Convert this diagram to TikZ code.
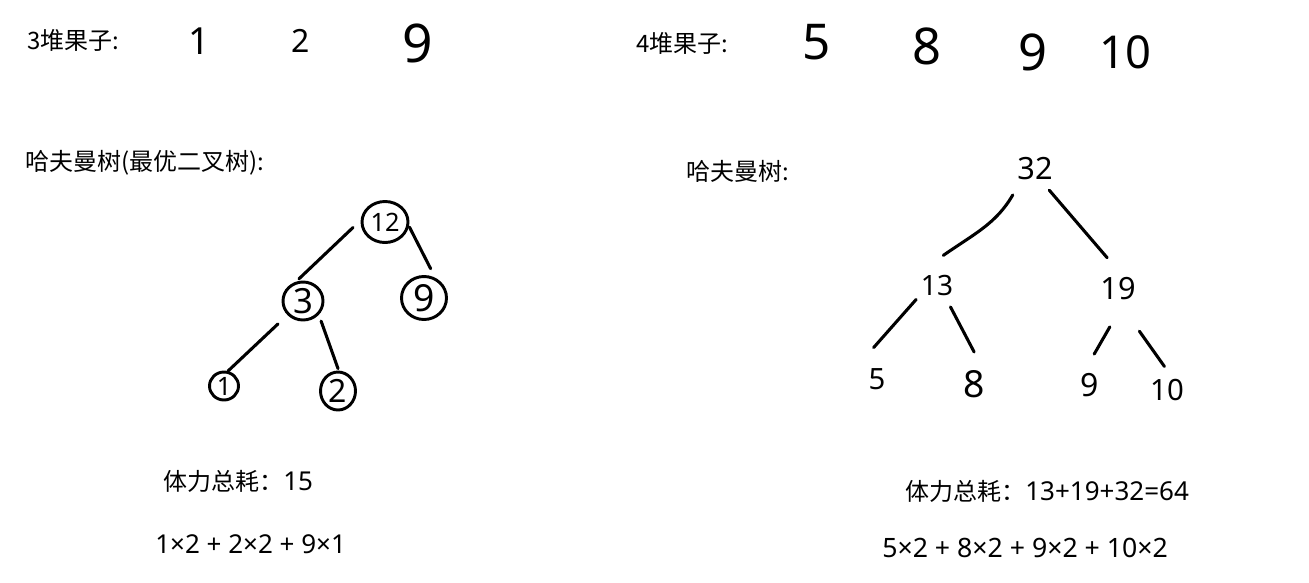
\documentclass[tikz,border=0pt]{standalone}
\usepackage{fontspec}
\setmainfont{Noto Sans CJK SC}
\newfontfamily\lat{Noto Sans}
\usetikzlibrary{shapes.geometric}
\begin{document}
\begin{tikzpicture}[x=0.75pt,y=-0.75pt,
  lbl/.style={anchor=west,inner sep=0,font=\fontsize{18}{20}\selectfont},
  latlbl/.style={anchor=west,inner sep=0,font=\lat\fontsize{#1}{20}\selectfont},
  hd/.style={inner sep=0,font=\lat\fontsize{#1}{#1}\selectfont},
  ring/.style={draw,ellipse,line width=2.2pt,inner sep=0},
  ghost/.style={circle,minimum size=45pt,inner sep=0},
  stroke/.style={line width=2.3pt,line cap=round}
]
\useasboundingbox (0,0) rectangle (1309,582);
% top rows
\node[lbl] (t1) at (27,40) {3堆果子:};
\node[hd=28] (a1) at (199,41) {1};
\node[hd=24] (a2) at (301,41) {2};
\node[hd=40] (a9) at (418,43) {9};
\node[lbl] (t2) at (636,43) {4堆果子:};
\node[hd=37] (b5) at (817,42) {5};
\node[hd=38] (b8) at (927,46) {8};
\node[hd=38] (b9) at (1033,52) {9};
\node[hd=34] (b10) at (1125,52) {10};
% titles
\node[lbl] (t3) at (25,163) {哈夫曼树(最优二叉树):};
\node[lbl] (t4) at (686,171) {哈夫曼树:};
% left tree
\node[ring,hd=19,minimum width=34.5pt,minimum height=30.75pt] (n12) at (385,222) {12};
\node[ring,hd=26,minimum width=30pt,minimum height=28.5pt] (n3) at (303,301) {3};
\node[ring,hd=28,minimum width=33.75pt,minimum height=32.25pt] (n9) at (424,298) {9};
\node[ring,hd=19,minimum width=21.75pt,minimum height=21pt] (n1) at (224,386) {1};
\node[ring,hd=24,minimum width=26.25pt,minimum height=28.5pt] (n2) at (338,391) {2};
\draw[stroke,shorten <=7.9pt,shorten >=3pt] (n12.176) -- (n3.110);
\draw[stroke,shorten <=0.75pt,shorten >=7.6pt] (n12.350) -- (n9.61);
\draw[stroke,shorten <=9.75pt] (n3.222) -- (n1.75);
\draw[stroke,shorten <=5pt,shorten >=1.5pt] (n3.319) -- (n2.88);
% right tree
\node[ghost,hd=23] (n32) at (1035,169) {32};
\node[ghost,hd=21] (n13) at (937,285) {13};
\node[ghost,hd=23] (n19) at (1118,289) {19};
\node[ghost,hd=22] (r5) at (877,379) {5};
\node[ghost,hd=28] (r8) at (974,384) {8};
\node[ghost,hd=24] (r9) at (1090,385) {9};
\node[ghost,hd=22] (r10) at (1167,390) {10};
\draw[stroke,shorten <=3pt] (n32.228) to[out=240,in=35] (n13.78);
\draw[stroke,shorten <=-3.6pt,shorten >=2.3pt] (n32.305) -- (n19.107);
\draw[stroke,shorten <=-3.75pt,shorten >=1.5pt] (n13.217) -- (r5.99);
\draw[stroke,shorten <=-3.4pt,shorten >=1.5pt] (n13.301) -- (r8.88);
\draw[stroke,shorten <=6.75pt,shorten >=0.75pt] (n19.263) -- (r9.83);
\draw[stroke,shorten <=13pt,shorten >=-5.5pt] (n19.292) -- (r10.103);
% bottom
\node[lbl] (s1) at (163,481) {体力总耗：{\lat\fontsize{19.5}{20}\selectfont 15}};
\node[latlbl=19.5] (f1) at (155,544) {1×2 + 2×2 + 9×1};
\node[lbl] (s2) at (905,491) {体力总耗：{\lat\fontsize{19.5}{20}\selectfont 13+19+32=64}};
\node[latlbl=20] (f2) at (882,548) {5×2 + 8×2 + 9×2 + 10×2};
\end{tikzpicture}
\end{document}
